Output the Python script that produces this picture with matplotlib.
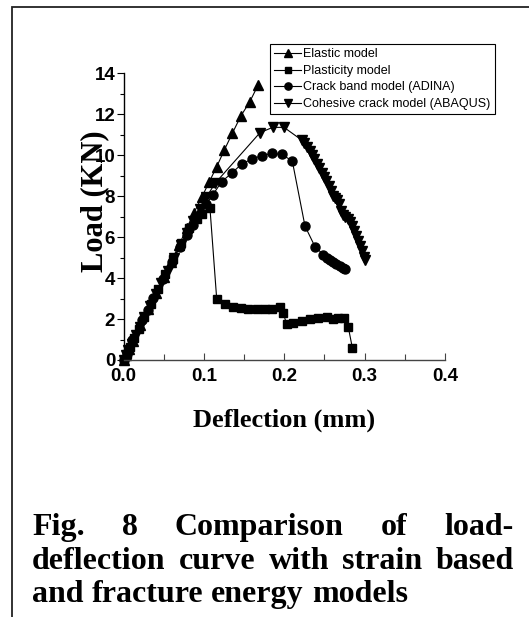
import matplotlib
matplotlib.use('Agg')
import matplotlib.pyplot as plt
from matplotlib.patches import Rectangle

# ---- data (deflection in mm, load in kN) ----
elastic_x = [0, 0.003, 0.007, 0.012, 0.021, 0.031, 0.040, 0.050, 0.059, 0.069, 0.0786,
             0.0877, 0.0973, 0.1068, 0.116, 0.1254, 0.1354, 0.1462, 0.157, 0.1675]
elastic_y = [0, 0.25, 0.55, 0.95, 1.7, 2.5, 3.25, 4.05, 4.8, 5.6, 6.43,
             7.19, 7.94, 8.71, 9.44, 10.25, 11.07, 11.93, 12.6, 13.43]

plastic_x = [0, 0.004, 0.008, 0.013, 0.019, 0.026, 0.034, 0.043, 0.052, 0.062, 0.072, 0.082,
             0.091, 0.098, 0.1076, 0.116, 0.1263, 0.1366, 0.1458, 0.1553, 0.1657, 0.176,
             0.1852, 0.1947, 0.1989, 0.203, 0.2113, 0.2217, 0.232, 0.2424, 0.2528, 0.261,
             0.2673, 0.2743, 0.2797, 0.2847]
plastic_y = [0, 0.3, 0.65, 1.05, 1.5, 2.1, 2.75, 3.45, 4.2, 4.95, 5.7, 6.45,
             6.9, 7.15, 7.4, 2.96, 2.72, 2.57, 2.52, 2.47, 2.47, 2.47,
             2.49, 2.57, 2.28, 1.74, 1.82, 1.90, 1.98, 2.07, 2.12, 1.98,
             2.07, 2.03, 1.6, 0.6]

crack_x = [0, 0.004, 0.0102, 0.0226, 0.031, 0.037, 0.0488, 0.060, 0.0703, 0.0786, 0.0869,
           0.0964, 0.103, 0.111, 0.1222, 0.1354, 0.147, 0.1595, 0.172, 0.1844, 0.1968,
           0.210, 0.2258, 0.2383, 0.2486, 0.2528, 0.2569, 0.2610, 0.2650, 0.2693, 0.2730, 0.2756]
crack_y = [0, 0.3, 0.98, 1.95, 2.44, 3.01, 3.94, 4.8, 5.53, 6.1, 6.59,
           7.16, 7.6, 8.06, 8.71, 9.15, 9.57, 9.81, 9.98, 10.09, 10.04,
           9.72, 6.54, 5.53, 5.15, 5.0, 4.88, 4.78, 4.68, 4.58, 4.48, 4.42]

cohesive_x = [0, 0.003, 0.006, 0.010, 0.015, 0.020, 0.026, 0.033, 0.040, 0.047, 0.055, 0.063,
              0.071, 0.079, 0.087, 0.095, 0.103, 0.114, 0.1698, 0.1856, 0.1997, 0.2217,
              0.2250, 0.2285, 0.2315, 0.2345, 0.2375, 0.2405, 0.2435, 0.2465, 0.2495, 0.2525,
              0.2555, 0.2585, 0.2610, 0.2630, 0.2655, 0.2680, 0.2705, 0.2730, 0.2760, 0.2790,
              0.2815, 0.2840, 0.2865, 0.2890, 0.2915, 0.2940, 0.2965, 0.2990, 0.3010]
cohesive_y = [0, 0.25, 0.5, 0.8, 1.2, 1.6, 2.1, 2.65, 3.2, 3.75, 4.35, 5.0,
              5.6, 6.2, 6.8, 7.35, 7.95, 8.63, 11.10, 11.36, 11.36, 10.74,
              10.58, 10.40, 10.20, 10.00, 9.80, 9.58, 9.38, 9.15, 8.95, 8.72,
              8.50, 8.25, 8.00, 7.90, 7.80, 7.60, 7.30, 7.10, 7.00, 6.90,
              6.75, 6.55, 6.30, 6.05, 5.80, 5.55, 5.30, 5.05, 4.90]

x_ticks = [0.0, 0.1, 0.2, 0.3, 0.4]
x_ticklabels = ['0.0', '0.1', '0.2', '0.3', '0.4']
y_ticks = [0, 2, 4, 6, 8, 10, 12, 14]

caption_lines = [['Fig.', '8', 'Comparison', 'of', 'load-'],
                 ['deflection', 'curve', 'with', 'strain', 'based'],
                 ['and', 'fracture', 'energy', 'models']]

W, H = 529, 617
fig = plt.figure(figsize=(W / 100, H / 100), dpi=100)
fig.patch.set_facecolor('white')

# page frame (extends past right and bottom edge)
fig.add_artist(Rectangle((12 / W, -0.2), 1.2, 1 - 7 / H + 0.2, transform=fig.transFigure,
                         fill=False, edgecolor='#222222', lw=1.3))

ax = fig.add_axes([123.5 / W, 1 - 360 / H, (445 - 123.5) / W, (360 - 73.3) / H])

ax.plot(elastic_x, elastic_y, '-^', color='black', lw=0.8, ms=7, label='Elastic model', clip_on=False)
ax.plot(plastic_x, plastic_y, '-s', color='black', lw=0.8, ms=5.5, label='Plasticity model', clip_on=False)
ax.plot(crack_x, crack_y, '-o', color='black', lw=0.8, ms=6.5, label='Crack band model (ADINA)', clip_on=False)
ax.plot(cohesive_x, cohesive_y, '-v', color='black', lw=0.8, ms=7, label='Cohesive crack model (ABAQUS)', clip_on=False)

ax.set_xlim(0, 0.4)
ax.set_ylim(0, 14)
ax.spines['top'].set_visible(False)
ax.spines['right'].set_visible(False)
ax.spines['left'].set_linewidth(1.0)
ax.spines['bottom'].set_linewidth(1.0)
ax.spines['bottom'].set_color('#444444')

ax.set_xticks(x_ticks)
ax.set_xticks([0.05, 0.15, 0.25, 0.35], minor=True)
ax.set_yticks(y_ticks)
ax.set_yticks([1, 3, 5, 7, 9, 11, 13], minor=True)
tick_font = dict(family='Liberation Sans', fontsize=13.5, fontweight='bold')
ax.set_xticklabels(x_ticklabels, **tick_font)
ax.set_yticklabels([str(v) for v in y_ticks], **tick_font)
ax.tick_params(axis='x', which='major', direction='in', length=5, width=0.8, pad=6, color='#444444')
ax.tick_params(axis='x', which='minor', direction='in', length=4, width=0.8, color='#444444')
ax.tick_params(axis='y', which='major', direction='out', length=5, width=0.8, pad=1)
ax.tick_params(axis='y', which='minor', direction='out', length=3, width=0.8)

# axis titles (overlapping tick labels as in the original)
ax.text((95 - 123.5) / 321.5, (360 - 201) / 286.7, 'Load (KN)', rotation=90,
        ha='center', va='center', transform=ax.transAxes,
        family='Liberation Serif', fontweight='bold', fontsize=22)
ax.text(0.5, (360 - 420) / 286.7, 'Deflection (mm)', ha='center', va='center',
        transform=ax.transAxes, family='Liberation Serif', fontweight='bold', fontsize=19)

leg = ax.legend(loc='upper left', bbox_to_anchor=(270 / W, 1 - 44 / H),
                bbox_transform=fig.transFigure, prop={'family': 'Liberation Sans', 'size': 9},
                frameon=True, fancybox=False, framealpha=1, edgecolor='black',
                borderpad=0.35, labelspacing=0.36, handlelength=2.1, handletextpad=0.2,
                borderaxespad=0, markerscale=0.8)
leg.get_frame().set_linewidth(0.8)

# justified caption
fig.canvas.draw()
r = fig.canvas.get_renderer()
left, right = 32, 514
baselines = [535, 569, 602]
for i, words in enumerate(caption_lines):
    texts = [fig.text(0, 1 - baselines[i] / H, w, ha='left', va='baseline',
                      family='Liberation Serif', fontweight='bold', fontsize=23)
             for w in words]
    widths = [t.get_window_extent(r).width for t in texts]
    if i < len(caption_lines) - 1:
        gap = (right - left - sum(widths)) / (len(words) - 1)
    else:
        gap = 8
    x = left
    for t, w in zip(texts, widths):
        t.set_x(x / W)
        x += w + gap

fig.savefig('out.png', dpi=100)
